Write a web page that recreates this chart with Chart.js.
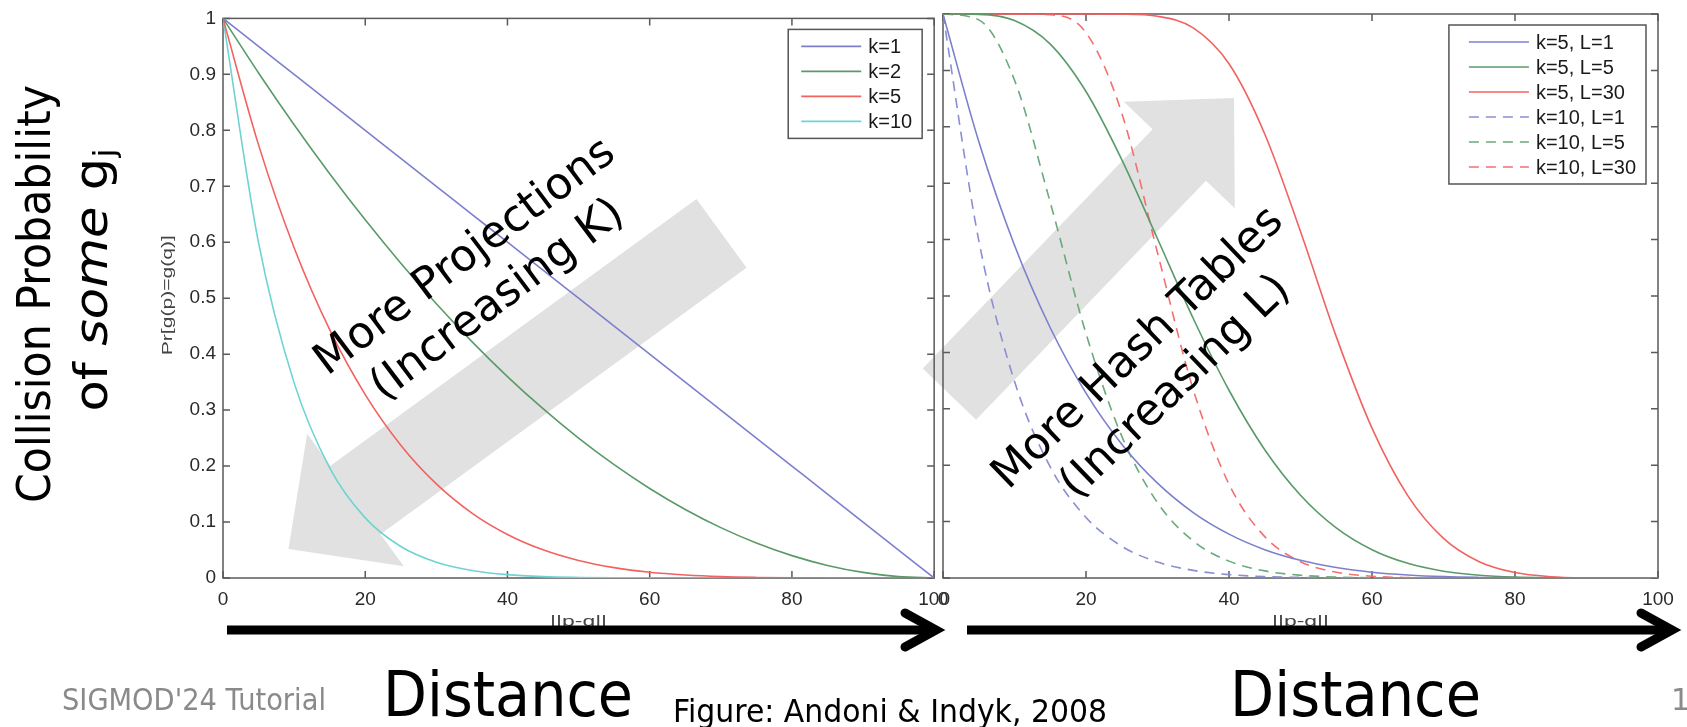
<!DOCTYPE html>
<html>
<head>
<meta charset="utf-8">
<script src="https://cdn.jsdelivr.net/npm/chart.js@4.4.0/dist/chart.umd.min.js"></script>
<style>
  html, body { margin: 0; padding: 0; background: #fff; }
  #page { position: relative; width: 1687px; height: 727px; overflow: hidden; background: #fff; }
  canvas { position: absolute; top: 0; }
  #leftPlot { left: 0; z-index: 2; }
  #rightPlot { left: 870px; z-index: 1; }
  #overlay { position: absolute; left: 0; top: 0; z-index: 3; }
</style>
</head>
<body>
<div id="page">
  <canvas id="rightPlot" width="817" height="640"></canvas>
  <canvas id="leftPlot" width="960" height="640"></canvas>
  <svg id="overlay" width="1687" height="727" xmlns="http://www.w3.org/2000/svg" font-family="'DejaVu Sans', sans-serif">
    <g stroke="#000" stroke-width="9" fill="none">
      <line x1="227" y1="630" x2="933" y2="630"/>
      <polyline points="905,613 936,630 905,647" stroke-linecap="round" stroke-linejoin="miter"/>
      <line x1="967" y1="630" x2="1669" y2="630"/>
      <polyline points="1641,613 1672,630 1641,647" stroke-linecap="round" stroke-linejoin="miter"/>
    </g>
    <text transform="translate(50,294) rotate(-90)" text-anchor="middle" font-size="47" textLength="418" lengthAdjust="spacingAndGlyphs">Collision Probability</text>
    <text transform="translate(107,280) rotate(-90)" text-anchor="middle" font-size="47" textLength="263" lengthAdjust="spacingAndGlyphs">of <tspan font-style="italic">some</tspan> g<tspan font-size="30" dy="8">j</tspan></text>
    <text x="62" y="710" font-size="30" fill="#8a8a8a" textLength="264" lengthAdjust="spacingAndGlyphs">SIGMOD'24 Tutorial</text>
    <text x="383" y="716" font-size="62" textLength="250" lengthAdjust="spacingAndGlyphs">Distance</text>
    <text x="673" y="722" font-size="32" textLength="434" lengthAdjust="spacingAndGlyphs">Figure: Andoni &amp; Indyk, 2008</text>
    <text x="1230" y="716" font-size="62" textLength="251" lengthAdjust="spacingAndGlyphs">Distance</text>
    <text x="1671" y="710" font-size="30" fill="#8a8a8a">1</text>
  </svg>
</div>
<script>
// distance ||p-q|| sampled every 5
const distance = [0, 5, 10, 15, 20, 25, 30, 35, 40, 45, 50, 55, 60, 65, 70, 75, 80, 85, 90, 95, 100];

// left plot: Pr[g(p)=g(q)] for k projections
const kLabels = ['k=1', 'k=2', 'k=5', 'k=10'];
const k1 = [1.00, 0.95, 0.90, 0.85, 0.80, 0.75, 0.70, 0.65, 0.60, 0.55, 0.50, 0.45, 0.40, 0.35, 0.30, 0.25, 0.20, 0.15, 0.10, 0.05, 0.00];
const k2 = [1.00, 0.9025, 0.81, 0.7225, 0.64, 0.5625, 0.49, 0.4225, 0.36, 0.3025, 0.25, 0.2025, 0.16, 0.1225, 0.09, 0.0625, 0.04, 0.0225, 0.01, 0.0025, 0.00];
const k5 = [1.00, 0.774, 0.590, 0.4437, 0.3277, 0.2373, 0.1681, 0.1160, 0.0778, 0.0503, 0.0313, 0.0185, 0.0102, 0.0053, 0.0024, 0.0010, 0.0003, 0.0001, 0, 0, 0];
const k10 = [1.00, 0.5987, 0.3487, 0.1969, 0.1074, 0.0563, 0.0282, 0.0135, 0.0060, 0.0025, 0.0010, 0.0003, 0.0001, 0, 0, 0, 0, 0, 0, 0, 0];

// right plot: collision in some g_j over L tables
const tableLabels = ['k=5, L=1', 'k=5, L=5', 'k=5, L=30', 'k=10, L=1', 'k=10, L=5', 'k=10, L=30'];
const k5L1 = [1.00, 0.774, 0.590, 0.4437, 0.3277, 0.2373, 0.1681, 0.1160, 0.0778, 0.0503, 0.0313, 0.0185, 0.0102, 0.0053, 0.0024, 0.0010, 0.0003, 0.0001, 0, 0, 0];
const k5L5 = [1.00, 0.9994, 0.9884, 0.9467, 0.8626, 0.7419, 0.6015, 0.4601, 0.3329, 0.2274, 0.1468, 0.0889, 0.0502, 0.0260, 0.0121, 0.0049, 0.0016, 0.0004, 0.0001, 0, 0];
const k5L30 = [1, 1, 1, 1, 1, 0.9997, 0.996, 0.9753, 0.9118, 0.7873, 0.6142, 0.4280, 0.2657, 0.1461, 0.0703, 0.0289, 0.0096, 0.0023, 0.0003, 0, 0];
const k10L1 = [1.00, 0.5987, 0.3487, 0.1969, 0.1074, 0.0563, 0.0282, 0.0135, 0.0060, 0.0025, 0.0010, 0.0003, 0.0001, 0, 0, 0, 0, 0, 0, 0, 0];
const k10L5 = [1.00, 0.9896, 0.8828, 0.6659, 0.4334, 0.2515, 0.1335, 0.0655, 0.0299, 0.0126, 0.0049, 0.0017, 0.0005, 0.0001, 0, 0, 0, 0, 0, 0, 0];
const k10L30 = [1, 1, 1, 0.9986, 0.9669, 0.8242, 0.5767, 0.3340, 0.1664, 0.0733, 0.0289, 0.0102, 0.0031, 0.0008, 0.0002, 0, 0, 0, 0, 0, 0];

const xStep = 20;
const yStep = 0.1;

const BLUE = '#7c80cc', GREEN = '#5a9a68', RED = '#f2625e', CYAN = '#6fd3d3';
const SANS = '"Liberation Sans", Arial, sans-serif';
const DASH = [10, 7];

function series(label, values, color, dash) {
    return {
        label: label,
        data: distance.map((d, i) => ({ x: d, y: values[i] })),
        borderColor: color,
        borderWidth: 1.6,
        borderDash: dash || [],
        pointRadius: 0,
        cubicInterpolationMode: 'monotone',
        fill: false
    };
}

// gray block arrow, tail/tip given in data units
function drawBlockArrow(chart, arr) {
    const { ctx, scales: { x, y } } = chart;
    const x0 = x.getPixelForValue(arr.tail[0]), y0 = y.getPixelForValue(arr.tail[1]);
    const x1 = x.getPixelForValue(arr.tip[0]), y1 = y.getPixelForValue(arr.tip[1]);
    const len = Math.hypot(x1 - x0, y1 - y0);
    const ux = (x1 - x0) / len, uy = (y1 - y0) / len;
    const nx = -uy, ny = ux;
    const bx = x1 - ux * arr.headLen, by = y1 - uy * arr.headLen;
    const b = arr.body / 2, h = arr.head / 2;
    const pts = [
        [x0 + nx * b, y0 + ny * b], [bx + nx * b, by + ny * b], [bx + nx * h, by + ny * h],
        [x1, y1],
        [bx - nx * h, by - ny * h], [bx - nx * b, by - ny * b], [x0 - nx * b, y0 - ny * b]
    ];
    ctx.save();
    ctx.fillStyle = '#e1e1e1';
    ctx.beginPath();
    pts.forEach((p, i) => i ? ctx.lineTo(p[0], p[1]) : ctx.moveTo(p[0], p[1]));
    ctx.closePath();
    ctx.fill();
    ctx.restore();
}

function drawFrame(chart) {
    const { ctx, chartArea: a, scales: { x, y } } = chart;
    const t = 7;
    ctx.save();
    ctx.strokeStyle = '#5a5a5a';
    ctx.lineWidth = 1.5;
    ctx.strokeRect(a.left, a.top, a.right - a.left, a.bottom - a.top);
    ctx.beginPath();
    x.ticks.forEach(tk => {
        const px = x.getPixelForValue(tk.value);
        ctx.moveTo(px, a.bottom); ctx.lineTo(px, a.bottom - t);
        ctx.moveTo(px, a.top); ctx.lineTo(px, a.top + t);
    });
    y.ticks.forEach(tk => {
        const py = y.getPixelForValue(tk.value);
        ctx.moveTo(a.left, py); ctx.lineTo(a.left + t, py);
        ctx.moveTo(a.right, py); ctx.lineTo(a.right - t, py);
    });
    ctx.stroke();
    ctx.restore();
}

// stretched matlab-style axis titles
function stretchText(ctx, text, cx, cy, angle, len) {
    ctx.save();
    ctx.translate(cx, cy);
    ctx.rotate(angle);
    ctx.font = '14px ' + SANS;
    ctx.scale(len / ctx.measureText(text).width, 1);
    ctx.fillStyle = '#444';
    ctx.textAlign = 'center';
    ctx.textBaseline = 'middle';
    ctx.fillText(text, 0, 0);
    ctx.restore();
}

function drawTitles(chart, opts) {
    const a = chart.chartArea;
    stretchText(chart.ctx, opts.xTitle, (a.left + a.right) / 2, a.bottom + 44, 0, 57);
    if (opts.yTitle) {
        stretchText(chart.ctx, opts.yTitle, a.left - 55, (a.top + a.bottom) / 2 - 3, -Math.PI / 2, 120);
    }
}

function drawLegend(chart, opts) {
    const { ctx, chartArea: a } = chart;
    const sets = chart.data.datasets;
    const m = opts.legendMargin;
    ctx.save();
    ctx.font = '20px ' + SANS;
    const textW = Math.max(...sets.map(d => ctx.measureText(d.label).width));
    const w = m + 60 + 7 + textW + 10;
    const h = 17 + (sets.length - 1) * 25 + 17;
    const left = a.right - 12 - w, top = a.top + 11;
    ctx.fillStyle = '#fff';
    ctx.fillRect(left, top, w, h);
    ctx.strokeStyle = '#555';
    ctx.lineWidth = 1.5;
    ctx.strokeRect(left, top, w, h);
    sets.forEach((d, i) => {
        const yy = top + 17 + i * 25;
        ctx.strokeStyle = d.borderColor;
        ctx.lineWidth = d.borderWidth;
        ctx.setLineDash(d.borderDash);
        ctx.beginPath();
        ctx.moveTo(left + m, yy);
        ctx.lineTo(left + m + 60, yy);
        ctx.stroke();
        ctx.setLineDash([]);
        ctx.fillStyle = '#1a1a1a';
        ctx.textBaseline = 'middle';
        ctx.fillText(d.label, left + m + 67, yy + 1);
    });
    ctx.restore();
}

function drawNote(chart, note) {
    const { ctx, scales: { x, y } } = chart;
    ctx.save();
    ctx.translate(x.getPixelForValue(note.at[0]), y.getPixelForValue(note.at[1]));
    ctx.rotate(note.angle * Math.PI / 180);
    ctx.font = '44px "DejaVu Sans", sans-serif';
    ctx.fillStyle = '#000';
    ctx.textAlign = 'center';
    ctx.textBaseline = 'middle';
    ctx.fillText(note.lines[0], 0, -27);
    ctx.fillText(note.lines[1], 0, 27);
    ctx.restore();
}

const decoPlugin = {
    id: 'deco',
    beforeDatasetsDraw(chart, args, opts) {
        drawBlockArrow(chart, opts.arrow);
        drawFrame(chart);
        drawTitles(chart, opts);
    },
    afterDatasetsDraw(chart, args, opts) {
        drawLegend(chart, opts);
        drawNote(chart, opts.note);
    }
};

function makePlot(canvasId, datasets, cfg) {
    return new Chart(document.getElementById(canvasId), {
        type: 'line',
        data: { datasets: datasets },
        options: {
            responsive: false,
            animation: false,
            devicePixelRatio: 1,
            layout: { padding: { left: 0, top: 14, right: cfg.padRight, bottom: 0 } },
            scales: {
                x: {
                    type: 'linear', min: 0, max: 100,
                    ticks: { stepSize: xStep, padding: 10, color: '#2a2a2a', font: { family: SANS, size: 19 } },
                    grid: { display: false, drawTicks: false },
                    border: { display: false },
                    afterFit: s => { s.height = 62; }
                },
                y: {
                    min: 0, max: 1,
                    ticks: {
                        stepSize: yStep, padding: 7, display: cfg.yLabels, color: '#2a2a2a',
                        font: { family: SANS, size: 19 },
                        callback: v => String(Math.round(v * 10) / 10)
                    },
                    grid: { display: false, drawTicks: false },
                    border: { display: false },
                    afterFit: s => { s.width = cfg.yWidth; }
                }
            },
            plugins: {
                legend: { display: false },
                tooltip: { enabled: false },
                deco: { arrow: cfg.arrow, note: cfg.note, xTitle: '||p-q||', yTitle: cfg.yTitle, legendMargin: cfg.legendMargin }
            }
        },
        plugins: [decoPlugin]
    });
}

makePlot('leftPlot', [
    series(kLabels[0], k1, BLUE),
    series(kLabels[1], k2, GREEN),
    series(kLabels[2], k5, RED),
    series(kLabels[3], k10, CYAN)
], {
    padRight: 22, yWidth: 223, yLabels: true, yTitle: 'Pr[g(p)=g(q)]', legendMargin: 13,
    arrow: { tail: [70.1, 0.616], tip: [9.2, 0.052], body: 85, head: 164, headLen: 83 },
    note: { at: [36.4, 0.534], angle: -37, lines: ['More Projections', '(Increasing K)'] }
});

makePlot('rightPlot', [
    series(tableLabels[0], k5L1, BLUE),
    series(tableLabels[1], k5L5, GREEN),
    series(tableLabels[2], k5L30, RED),
    series(tableLabels[3], k10L1, '#8a8ed4', DASH),
    series(tableLabels[4], k10L5, '#6aaa7c', DASH),
    series(tableLabels[5], k10L30, '#f27070', DASH)
], {
    padRight: 29, yWidth: 73, yLabels: false, yTitle: null, legendMargin: 20,
    arrow: { tail: [0.9, 0.326], tip: [40.7, 0.851], body: 74, head: 154, headLen: 79 },
    note: { at: [30.0, 0.372], angle: -44, lines: ['More Hash Tables', '(Increasing L)'] }
});
</script>
</body>
</html>
